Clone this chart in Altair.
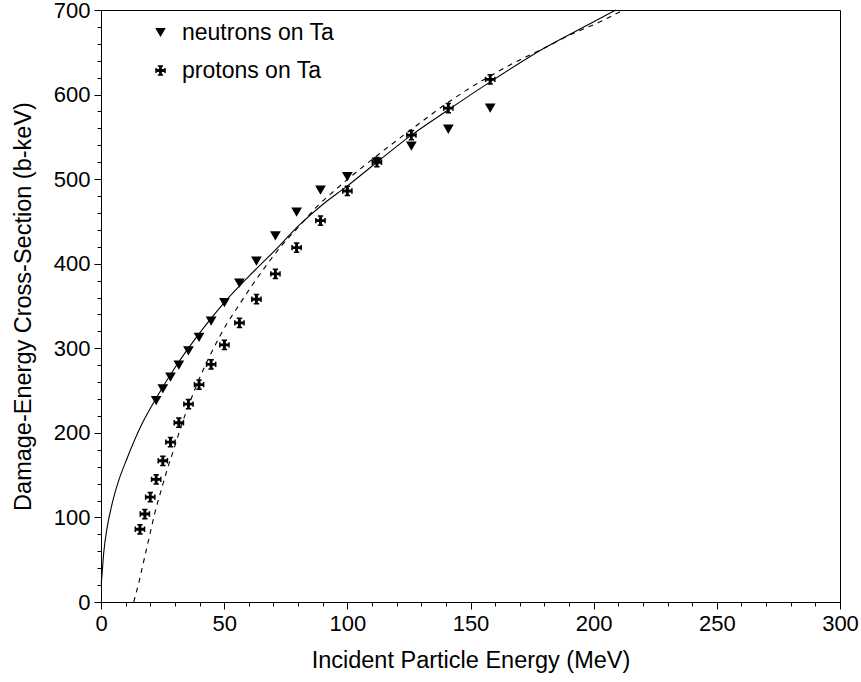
import altair as alt
import pandas as pd

# ---- data ----
neutron_E = [22.4, 25.1, 28.2, 31.6, 35.5, 39.8, 44.7, 50.1, 56.2, 63.1, 70.8, 79.4, 89.1, 100, 112, 126, 141, 158]
neutron_S = [238, 252, 266, 280, 297, 313, 332, 354, 377, 403, 433, 461, 487, 503, 520, 539, 559, 584]

proton_E = [15.8, 17.8, 20.0, 22.4, 25.1, 28.2, 31.6, 35.5, 39.8, 44.7, 50.1, 56.2, 63.1, 70.8, 79.4, 89.1, 100, 112, 126, 141, 158]
proton_S = [86, 104, 124, 145, 167, 189, 212, 234, 257, 281, 304, 330, 358, 388, 419, 451, 486, 520, 552, 584, 618]

solid_E = [0.1, 0.4, 1.1, 2.5, 4.5, 7, 10.6, 16.7, 22.8, 30, 40, 50, 60, 70, 81, 90, 100, 112, 126, 141, 158, 180, 200, 209]
solid_S = [22, 32, 58, 88, 116, 142, 170, 211, 243, 277, 318, 354, 385, 414, 447, 470, 492, 520, 552, 582, 615, 655, 686, 700]

dashed_E = [13.3, 14.0, 15.3, 16.7, 19.3, 22, 24.8, 26.8, 29.5, 32.2, 36.3, 40.2, 45, 51.1, 55.1, 61, 66.6, 72.9, 81, 87.1, 95, 101, 113, 127, 141, 151, 158, 170, 180, 190, 204, 212]
dashed_S = [0, 8, 22, 40, 73, 107, 136, 156, 180, 205, 238, 266, 296, 329, 347, 373, 396, 420, 446, 466, 487, 502, 530, 561, 591, 610, 622, 641, 655, 670, 688, 700]

x_ticks = list(range(0, 301, 10))
y_ticks = list(range(0, 701, 20))
series_names = ["neutrons on Ta", "protons on Ta"]

pts = pd.DataFrame(
    {"E": neutron_E + proton_E,
     "S": neutron_S + proton_S,
     "series": [series_names[0]] * len(neutron_E) + [series_names[1]] * len(proton_E)}
)
solid = pd.DataFrame({"E": solid_E, "S": solid_S})
dashed = pd.DataFrame({"E": dashed_E, "S": dashed_S})

FONT = "Liberation Sans"
FS = 22
TFS = 23.5

cross_path = ("M-0.5,-1 L0.5,-1 L0.5,-0.72 L0.27,-0.72 L0.27,-0.27 L0.72,-0.27 L0.72,-0.5 L1,-0.5 "
              "L1,0.5 L0.72,0.5 L0.72,0.27 L0.27,0.27 L0.27,0.72 L0.5,0.72 L0.5,1 L-0.5,1 L-0.5,0.72 "
              "L-0.27,0.72 L-0.27,0.27 L-0.72,0.27 L-0.72,0.5 L-1,0.5 L-1,-0.5 L-0.72,-0.5 L-0.72,-0.27 "
              "L-0.27,-0.27 L-0.27,-0.72 L-0.5,-0.72 Z")

xscale = alt.Scale(domain=[0, 300], nice=False, zero=False)
yscale = alt.Scale(domain=[0, 700], nice=False, zero=False)

common = dict(grid=False, labelFontSize=FS, titleFontSize=TFS, labelFont=FONT, titleFont=FONT,
              titleFontWeight="normal", labelColor="black", titleColor="black",
              domainColor="black", tickColor="black", labelFlush=False, labelOverlap=False,
              labelBound=False)

xaxis = alt.Axis(
    title="Incident Particle Energy (MeV)",
    values=x_ticks,
    labelExpr="datum.value % 50 === 0 ? datum.label : ''",
    tickSize={"condition": {"test": "datum.value % 50 === 0", "value": 7}, "value": 4},
    labelPadding=4, titlePadding=14, **common,
)
yaxis = alt.Axis(
    title="Damage-Energy Cross-Section (b-keV)",
    values=y_ticks,
    labelExpr="datum.value % 100 === 0 ? datum.label : ''",
    tickSize={"condition": {"test": "datum.value % 100 === 0", "value": 7}, "value": 4},
    labelPadding=4, titlePadding=18, **common,
)

X = alt.X("E:Q", scale=xscale, axis=xaxis)
Y = alt.Y("S:Q", scale=yscale, axis=yaxis)

solid_line = alt.Chart(solid).mark_line(color="black", strokeWidth=1.1, interpolate="monotone").encode(
    x=X, y=Y,
)
dashed_line = alt.Chart(dashed).mark_line(color="black", strokeWidth=1.1, strokeDash=[5, 5],
                                          interpolate="monotone").encode(
    x=X, y=Y,
)
points = alt.Chart(pts).mark_point(filled=True, opacity=1, color="black", size=115).encode(
    x=X, y=Y,
    shape=alt.Shape("series:N",
                    scale=alt.Scale(domain=series_names, range=["triangle-down", cross_path]),
                    legend=alt.Legend(title=None, orient="none", legendX=48, legendY=11,
                                      labelFontSize=23, labelFont=FONT, labelColor="black",
                                      symbolSize=110, symbolFillColor="black", symbolStrokeColor="black",
                                      symbolStrokeWidth=0, labelOffset=10, rowPadding=14, padding=0)),
)

chart = alt.layer(solid_line, dashed_line, points).properties(
    width=739, height=592,
    autosize=alt.AutoSizeParams(type="none"),
    padding={"left": 101, "top": 10, "right": 21, "bottom": 80},
    background="white",
).configure_view(stroke="black", strokeWidth=1).configure_axis(labelOverlap=False)

chart.save("out.html", embed_options={"renderer": "svg", "actions": False})
